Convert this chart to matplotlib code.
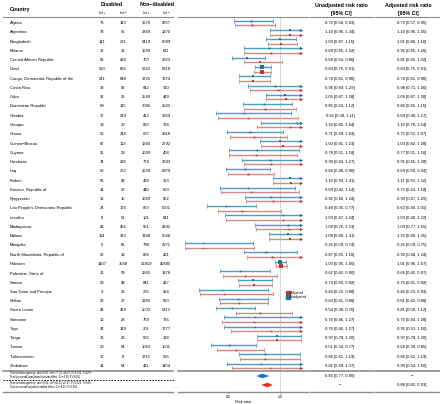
import numpy as np
import matplotlib
matplotlib.use('Agg')
import matplotlib.pyplot as plt
from matplotlib.transforms import blended_transform_factory
from matplotlib.lines import Line2D

plt.rcParams['font.family'] = ['Liberation Sans', 'DejaVu Sans']

# %% data
countries = ['Algeria', 'Argentina', 'Bangladesh', 'Belarus', 'Central African Republic', 'Chad',
             'Congo, Democratic Republic of the', 'Costa Rica', 'Cuba', 'Dominican Republic', 'Gambia',
             'Georgia', 'Ghana', 'Guinea\u2212Bissau', 'Guyana', 'Honduras', 'Iraq', 'Kiribati',
             'Kosovo, Republic of', 'Kyrgyzstan', "Lao People's Democratic Republic", 'Lesotho',
             'Madagascar', 'Malawi', 'Mongolia', 'North Macedonia, Republic of', 'Pakistan',
             'Palestine, State of', 'Samoa', 'Sao Tome and Principe', 'Serbia', 'Sierra Leone',
             'Suriname', 'Togo', 'Tonga', 'Tunisia', 'Turkmenistan', 'Zimbabwe']
dis_pos = [76, 78, 141, 17, 81, 520, 241, 33, 31, 69, 17, 19, 52, 67, 21, 34, 56, 66, 14, 16, 24, 8,
           46, 114, 5, 22, 1407, 26, 58, 9, 26, 43, 16, 24, 36, 20, 17, 14]
dis_neg = [143, 56, 221, 12, 434, 664, 648, 63, 15, 115, 249, 20, 244, 113, 29, 236, 272, 43, 37, 15,
           176, 51, 456, 343, 81, 18, 3568, 59, 48, 36, 27, 419, 28, 149, 23, 54, 8, 54]
non_pos = [3676, 2369, 5419, 1593, 700, 5222, 3725, 642, 1549, 2086, 412, 820, 607, 1393, 1039, 774,
           2539, 439, 440, 1069, 873, 101, 551, 3188, 798, 884, 16919, 1665, 841, 205, 1190, 1003,
           758, 201, 502, 1063, 1715, 421]
non_neg = [4757, 1270, 8099, 611, 2323, 6618, 7274, 720, 449, 2543, 3269, 724, 2318, 2792, 404, 3693,
           6979, 353, 800, 652, 5001, 641, 4392, 6038, 2271, 421, 40685, 1878, 417, 464, 550, 5113,
           716, 1777, 218, 1001, 565, 1454]
unadj_rr = [0.72, 1.10, 1.00, 0.89, 0.68, 0.83, 0.74, 0.95, 1.05, 0.85, 0.65, 1.16, 0.71, 1.00, 0.78,
            0.90, 0.66, 1.10, 0.69, 0.91, 0.48, 1.03, 1.08, 1.08, 0.26, 0.87, 1.00, 0.62, 0.74, 0.44,
            0.60, 0.54, 0.76, 0.76, 0.97, 0.51, 0.86, 0.82]
unadj_lo = [0.56, 0.90, 0.87, 0.65, 0.54, 0.76, 0.61, 0.69, 0.87, 0.64, 0.38, 0.82, 0.49, 0.81, 0.51,
            0.63, 0.48, 0.93, 0.42, 0.66, 0.30, 0.47, 0.76, 0.89, 0.09, 0.65, 0.95, 0.42, 0.60, 0.22,
            0.41, 0.38, 0.46, 0.46, 0.78, 0.34, 0.61, 0.49]
unadj_hi = [0.93, 1.34, 1.15, 1.22, 0.86, 0.91, 0.90, 1.29, 1.28, 1.12, 1.11, 1.64, 1.03, 1.23, 1.18,
            1.27, 0.90, 1.31, 1.14, 1.24, 0.77, 2.24, 1.53, 1.31, 0.74, 1.16, 1.06, 0.90, 0.92, 0.88,
            0.88, 0.76, 1.27, 1.27, 1.20, 0.77, 1.19, 1.37]
adj_rr = [0.73, 1.10, 1.01, 0.91, 0.81, 0.83, 0.74, 0.98, 1.06, 0.86, 0.69, 1.10, 0.75, 1.03, 0.77,
          0.91, 0.69, 1.11, 0.72, 0.93, 0.63, 1.03, 1.09, 1.10, 0.26, 0.92, 1.01, 0.66, 0.75, 0.46,
          0.61, 0.81, 0.75, 0.91, 0.97, 0.58, 0.86, 0.90]
adj_lo = [0.57, 0.90, 0.88, 0.65, 0.65, 0.75, 0.61, 0.71, 0.87, 0.65, 0.40, 0.78, 0.52, 0.82, 0.51,
          0.65, 0.50, 0.93, 0.43, 0.67, 0.40, 0.48, 0.77, 0.89, 0.09, 0.68, 0.96, 0.45, 0.61, 0.23,
          0.42, 0.58, 0.44, 0.53, 0.78, 0.39, 0.62, 0.54]
adj_hi = [0.95, 1.35, 1.16, 1.26, 1.02, 0.91, 0.90, 1.36, 1.30, 1.15, 1.17, 1.54, 1.07, 1.28, 1.16,
          1.28, 0.94, 1.32, 1.18, 1.29, 1.01, 2.22, 1.55, 1.35, 0.75, 1.24, 1.07, 0.97, 0.92, 0.93,
          0.88, 1.12, 1.28, 1.56, 1.20, 0.85, 1.19, 1.50]
overall_unadj = (0.83, 0.77, 0.90)
overall_adj = (0.88, 0.82, 0.93)
footnotes = ['Test for heterogeneity: tau\u00b2=0.01; chi\u00b2=77.35, df=37, P<0.001; I\u00b2=52%',
             'Test for overall unadjusted random effect: Z=\u22124.69, P<0.001',
             'Test for heterogeneity: tau\u00b2=0.01; chi\u00b2=56.21, df=37, P=0.022; I\u00b2=34%',
             'Test for overall adjusted random effect: Z=\u22124.15, P<0.001']

blue_line = '#4f9cc6'
blue_pt = '#1f6fa8'
red_line = '#d08a80'
red_pt = '#c0392b'
grey = '#8c8c8c'
W, H = 440, 404
CLIP = 1.2

def fmt(r, l, u):
    return '{:.2f} [{:.2f}, {:.2f}]'.format(r, l, u)

fig = plt.figure(figsize=(W / 100, H / 100), dpi=100)
# forest axes: pixel x 178..308, y 17..392
ax = fig.add_axes([178 / W, 1 - 392 / H, 130 / W, 375 / H])
ax.set_autoscale_on(False)
xlim = (0.5 - 50 / 104, 1 + 28 / 104)
top = (17 - 23) / 9.27
bot = (392 - 23) / 9.27
ax.set_xlim(*xlim)
ax.set_ylim(bot, top)
for s in ax.spines.values():
    s.set_visible(False)
ax.set_yticks([])
ax.set_xticks([0.5, 1.0])
ax.set_xticklabels(['0.5', '1.0'])
ax.tick_params(axis='x', length=1.5, width=0.5, pad=0.8, labelsize=2.6, color=grey)
ax.set_xlabel('Risk ratio', fontsize=2.8, labelpad=0.8)
ax.axvline(1.0, color='#777777', lw=0.4, ls=(0, (2, 2)), zorder=1)

def draw_ci(y, rr, lo, hi, lc, pc):
    se = (np.log(hi) - np.log(lo)) / 3.92
    ms = (1.2 + 0.1 * np.sqrt(1 / se ** 2)) * 0.72
    right = min(hi, CLIP)
    ax.hlines(y, lo, right, color=lc, lw=1.0, zorder=2)
    ax.plot([lo], [y], marker='|', color=lc, ms=2.2, mew=0.6, zorder=3)
    if hi > CLIP:
        ax.plot([CLIP], [y], marker='>', color=pc, ms=2.4, mew=0, zorder=3)
    else:
        ax.plot([hi], [y], marker='|', color=lc, ms=2.2, mew=0.6, zorder=3)
    ax.plot([rr], [y], marker='s', color=pc, ms=ms, mew=0, zorder=4)

for i in range(len(countries)):
    draw_ci(i - 0.25, unadj_rr[i], unadj_lo[i], unadj_hi[i], blue_line, blue_pt)
    draw_ci(i + 0.25, adj_rr[i], adj_lo[i], adj_hi[i], red_line, red_pt)

# overall diamonds
y_un = (376 - 23) / 9.27
y_ad = (385 - 23) / 9.27
for (r, l, u), yy, c in [(overall_unadj, y_un, '#1f78b4'), (overall_adj, y_ad, '#d7301f')]:
    ax.fill([l, r, u, r], [yy, yy - 0.25, yy, yy + 0.25], color=c, lw=0, zorder=4)

ax.set_xlim(*xlim)
ax.set_ylim(bot, top)

handles = [Line2D([], [], marker='s', ls='none', color=red_pt, ms=2.5, label='Adjusted'),
           Line2D([], [], marker='s', ls='none', color=blue_pt, ms=2.5, label='Unadjusted')]
ax.legend(handles=handles, loc='center left', bbox_to_anchor=(0.83, 1 - (295 - 17) / 375),
          fontsize=2.4, frameon=False, handlelength=0.5, handletextpad=0.3, labelspacing=0.1,
          borderpad=0)

# table text
tr = blended_transform_factory(fig.transFigure, ax.transData)
fs = 3.0
col_x = [102, 123, 146, 166]
for i, name in enumerate(countries):
    fig.text(10 / W, i, name, transform=tr, fontsize=fs, va='center', ha='left')
    for cx, vals in zip(col_x, [dis_pos, dis_neg, non_pos, non_neg]):
        fig.text(cx / W, i, str(vals[i]), transform=tr, fontsize=fs, va='center', ha='center')
    fig.text(340 / W, i, fmt(unadj_rr[i], unadj_lo[i], unadj_hi[i]), transform=tr,
             fontsize=fs, va='center', ha='center')
    fig.text(412 / W, i, fmt(adj_rr[i], adj_lo[i], adj_hi[i]), transform=tr,
             fontsize=fs, va='center', ha='center')

fig.text(340 / W, y_un, fmt(*overall_unadj), transform=tr, fontsize=fs, va='center', ha='center')
fig.text(412 / W, y_un, '\u2212', transform=tr, fontsize=fs, va='center', ha='center')
fig.text(340 / W, y_ad, '\u2212', transform=tr, fontsize=fs, va='center', ha='center')
fig.text(412 / W, y_ad, fmt(*overall_adj), transform=tr, fontsize=fs, va='center', ha='center')

# footnotes
for yy, t in zip([373, 377.3, 382.7, 387.3], footnotes):
    fig.text(10 / W, 1 - yy / H, t, fontsize=1.9, va='center', ha='left')

# headers
hfs = 3.8
fig.text(10 / W, 1 - 10 / H, 'Country', fontsize=hfs, fontweight='bold', va='center')
fig.text(111.5 / W, 1 - 4.5 / H, 'Disabled', fontsize=hfs, fontweight='bold', va='center', ha='center')
fig.text(157 / W, 1 - 4.5 / H, 'Non\u2212disabled', fontsize=hfs, fontweight='bold', va='center', ha='center')
for cx, lab in zip(col_x, ['Int +', 'Int \u2212', 'Int +', 'Int \u2212']):
    fig.text(cx / W, 1 - 13 / H, lab, fontsize=2.4, va='center', ha='center')
fig.text(341 / W, 1 - 5 / H, 'Unadjusted risk ratio', fontsize=hfs, fontweight='bold', va='center', ha='center')
fig.text(341 / W, 1 - 13.5 / H, '[95% CI]', fontsize=hfs, fontweight='bold', va='center', ha='center')
fig.text(408 / W, 1 - 5 / H, 'Adjusted risk ratio', fontsize=hfs, fontweight='bold', va='center', ha='center')
fig.text(408 / W, 1 - 13.5 / H, '[95% CI]', fontsize=hfs, fontweight='bold', va='center', ha='center')

# rule lines
segs = [(3, 173), (178, 308), (310, 373), (375, 440)]
for yy, lw in [(16.5, 0.8), (371, 1.2), (392, 1.0)]:
    for x0, x1 in segs:
        fig.add_artist(Line2D([x0 / W, x1 / W], [1 - yy / H, 1 - yy / H], color=grey, lw=lw))
fig.add_artist(Line2D([3 / W, 175 / W], [1 - 380 / H, 1 - 380 / H], color='black', lw=0.6,
                      ls=(0, (2, 1.5))))

fig.savefig('out.png', dpi=100)
